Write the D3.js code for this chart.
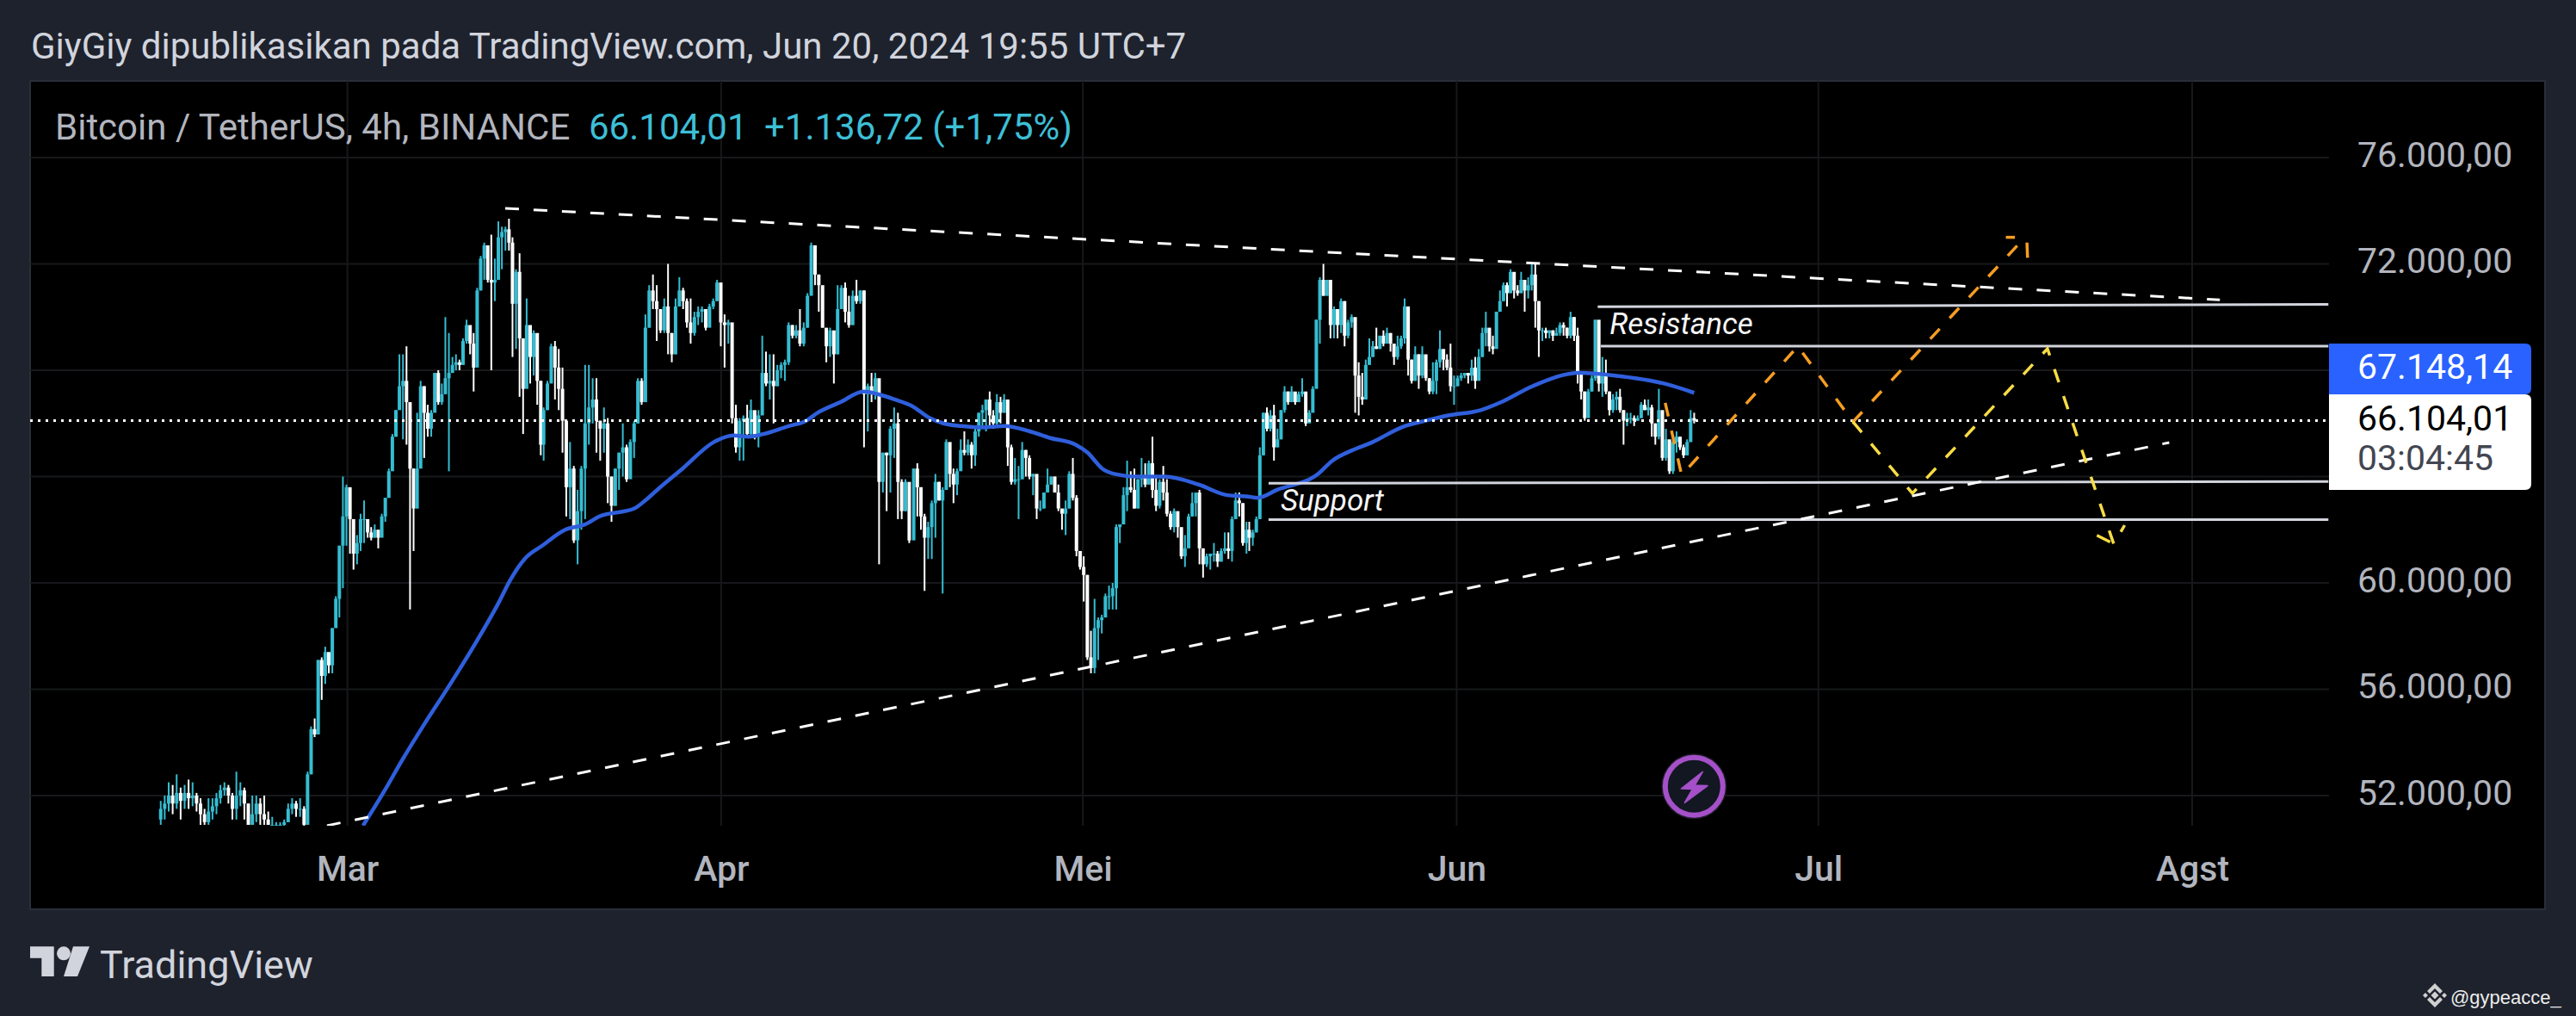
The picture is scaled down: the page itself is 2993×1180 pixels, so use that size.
<!DOCTYPE html>
<html>
<head>
<meta charset="utf-8">
<script src="https://cdn.jsdelivr.net/npm/d3@7"></script>
<style>
  html, body { margin: 0; padding: 0; background: #1e222d; }
  svg { display: block; }
  text { font-family: Roboto, sans-serif; }
</style>
</head>
<body>
<div id="chart"></div>
<script>
// prices are in thousands of USDT, days are counted from 1 March 2024

const priceTicks = [52, 56, 60, 64, 68, 72, 76];
// 64 and 68 sit behind the price tags, so only their grid lines show
const priceLabels = [52, 56, 60, 72, 76];
const monthTicks = [[2024, 2], [2024, 3], [2024, 4], [2024, 5], [2024, 6], [2024, 7]];
const monthLabels = ["Mar", "Apr", "Mei", "Jun", "Jul", "Agst"];

// 8h bars, one group per stretch of the chart
const closeA = [51.5,51.7,52.0,51.7,52.1,51.8,52.1,51.9,52.0,51.7,
  51.3,51.0,51.4,51.6,51.9,52.2,52.3,52.0,51.5,52.0,
  52.2,51.7,50.9,51.3,51.7,51.3,51.1,50.9,50.9,50.9,
  50.9,51.0,51.5,51.7,51.5,51.5,50.9];
const highA = [51.8,52.0,52.5,52.4,52.8,52.3,52.4,52.6,52.5,52.1,
  51.9,51.5,51.9,51.9,52.1,52.4,52.5,52.4,52.1,52.9,
  52.5,52.3,51.7,52.0,52.0,51.9,52.0,51.4,51.2,51.0,
  51.0,51.1,51.7,51.9,51.8,51.9,51.6];
const lowA = [50.9,51.1,51.4,51.3,51.5,51.1,51.5,51.5,51.6,51.4,
  50.9,50.9,50.9,51.1,51.3,51.7,52.0,51.7,51.1,51.1,
  51.6,51.1,50.9,50.9,51.0,50.9,50.9,50.9,50.9,50.9,
  50.6,50.7,51.0,51.3,51.2,51.2,50.6];

const closeB = [52.8,54.5,54.3,57.1,56.5,57.4,56.9,58.3,59.4,61.4,
  62.5,63.6,62.4,61.1,61.5,62.4,62.4,61.9,61.7,62.0,
  61.7,62.5,63.2,64.2,65.5,66.5,67.4,67.6,66.8,64.3,
  62.8,64.3,67.4,66.4,65.8,66.4,67.9,66.8,67.1,67.7,
  67.9,68.2,68.3,68.2,69.1,69.7,69.0,68.1,71.0,72.2,
  72.7,71.4,71.3,71.4,73.0,73.2,73.3,72.8,70.5,71.7,
  69.2,67.3,69.7,68.5,69.4,67.6,65.2];
const highB = [52.9,54.6,54.9,57.1,57.2,57.6,57.3,58.3,59.5,61.4,
  64.0,63.7,63.5,62.2,61.8,62.6,63.1,62.3,62.1,62.2,
  62.0,62.6,63.2,64.3,65.6,66.5,68.6,68.6,68.9,66.8,
  64.3,66.4,67.6,67.4,66.7,66.5,67.9,68.0,67.5,70.0,
  69.4,68.5,68.6,68.4,69.2,69.9,69.5,69.4,71.1,72.3,
  72.8,72.4,73.1,72.2,73.6,73.4,73.4,73.7,73.0,71.8,
  72.4,68.9,70.7,69.2,69.5,68.4,67.6];
const lowB = [51.0,52.8,54.2,54.8,55.6,56.2,56.6,56.6,58.7,58.7,
  59.8,61.4,61.1,60.5,60.7,61.2,61.5,61.7,61.6,61.7,
  61.3,61.8,62.3,63.2,64.3,65.5,66.9,65.4,65.2,59.0,
  61.2,62.8,66.1,64.7,65.5,65.5,66.6,66.7,66.7,67.1,
  64.2,67.9,68.0,68.0,68.2,69.0,68.6,67.2,68.5,71.0,
  71.4,71.3,68.0,70.6,71.5,71.8,72.5,72.5,68.5,68.8,
  67.0,65.6,67.4,67.5,67.8,66.7,64.8];

const closeC = [66.5,67.5,68.9,68.1,67.3,66.1,63.6,64.3,61.6,62.7,
  64.3,66.0,66.6,66.9,66.1,65.8,66.0,64.0,62.9,64.3,
  64.9,65.1,63.9,65.3,66.0,67.6,66.8,69.6,71.0,70.6,
  70.3,69.5,70.4,69.4,68.6,70.4,71.0,70.6,69.8,69.4,
  70.0,70.2,70.3,69.6,70.4,70.6,71.3,69.8,69.7,69.8,
  66.2,65.1,66.1,66.2,65.6,66.5,65.5,66.3,67.9,67.5,
  67.6,67.4,68.0,68.2,68.3,69.7,69.3,69.5,69.0,69.6,
  70.8,72.7,71.6,71.2,69.6,68.9,69.5,68.6,70.3,71.1,
  70.2,69.7,70.8,70.6,71.0,67.1,67.4,67.1,67.7,63.8,
  64.9,64.8,65.8,66.0,63.8,62.7,63.8,61.6];
const highC = [66.6,67.6,69.0,69.1,68.8,68.1,64.9,65.3,64.4,63.5,
  64.4,68.2,68.2,67.7,67.7,66.1,66.6,66.2,64.0,64.3,
  64.9,66.0,65.2,65.4,66.1,67.7,67.7,70.1,71.2,71.6,
  71.2,70.3,70.7,72.0,69.4,70.7,71.5,71.1,70.7,70.7,
  70.2,70.4,70.4,70.1,70.5,70.7,71.4,70.6,70.1,69.9,
  69.6,66.7,66.2,66.3,66.7,66.9,66.3,66.5,69.3,68.7,
  68.6,68.6,68.2,68.3,68.4,69.8,69.7,69.7,70.3,69.8,
  70.9,72.8,72.1,71.6,71.0,69.5,69.6,69.3,71.2,71.2,
  71.3,70.8,71.0,71.4,71.0,71.0,67.5,67.9,67.9,67.1,
  64.9,64.9,65.9,66.6,66.4,63.9,63.9,63.7];
const lowC = [64.6,66.5,68.1,66.9,66.5,64.9,62.5,62.4,61.5,60.7,
  62.0,62.4,65.2,66.0,64.9,64.6,64.9,63.0,62.3,62.9,
  63.5,64.0,63.8,64.6,64.7,66.0,66.7,66.8,69.6,70.3,
  69.1,69.4,69.4,68.6,68.3,68.6,70.4,70.3,69.6,69.0,
  69.3,69.7,69.8,69.5,69.9,70.3,70.6,68.9,68.1,69.0,
  66.0,64.9,64.6,64.6,65.5,65.5,65.4,65.1,66.4,67.4,
  66.9,66.0,67.4,67.7,67.6,68.2,69.2,69.2,68.9,68.9,
  69.6,71.3,71.2,70.2,69.6,68.3,68.5,67.5,68.6,70.3,
  69.8,69.6,69.7,70.5,70.5,65.1,65.7,66.8,66.9,60.7,
  63.4,62.7,63.4,64.7,62.4,62.4,62.7,61.5];

const closeD = [64.3,63.6,62.5,61.7,62.1,63.0,63.8,63.1,63.5,65.3,
  64.1,63.7,64.2,65.0,64.9,65.2,64.8,65.7,66.4,66.5,
  66.9,66.3,66.0,66.8,66.4,66.9,65.1,63.8,63.9,63.9,
  65.0,64.7,64.0,64.1,62.8,62.8,63.4,63.7,64.0,63.4,
  62.8,62.6,62.8,64.1,63.2,61.2,60.6,60.3,57.2,56.8,
  58.3,58.6,58.7,59.5,59.5,59.8,62.1,62.2,63.3,63.6,
  63.5,62.8,63.9,64.0,63.7,64.5,63.5,62.9,63.8,63.4,
  62.6,62.1,62.7,62.1,61.0,61.3,62.5,63.0,63.4,61.3,
  60.7,61.0,61.1,61.1,60.8,61.2,61.3,61.2,62.4,63.1,
  63.0,61.5,62.0];
const highD = [64.3,64.5,63.6,62.6,62.3,63.1,64.1,63.8,63.6,65.4,
  65.0,64.3,64.3,65.4,65.7,65.4,65.3,65.8,66.4,66.7,
  66.9,67.2,66.5,67.1,67.0,67.1,66.8,65.2,64.7,64.4,
  65.3,65.0,64.8,64.1,63.9,63.1,63.4,64.3,64.0,64.0,
  63.7,62.6,63.1,64.2,64.7,63.3,61.2,61.0,60.3,58.2,
  59.4,58.7,58.8,59.6,59.9,60.0,62.2,62.2,63.6,64.6,
  64.2,64.3,63.9,64.7,64.5,64.6,65.5,64.0,63.9,64.4,
  63.9,62.7,62.8,62.5,61.8,61.8,62.6,63.4,63.4,63.5,
  61.3,61.1,61.1,61.5,61.2,61.3,61.9,61.9,62.5,63.4,
  63.4,63.0,62.3];
const lowD = [62.0,62.5,62.0,59.7,60.9,60.9,61.7,63.1,59.6,63.5,
  63.6,63.0,63.3,64.5,64.8,64.8,64.3,64.4,65.5,65.9,
  65.7,65.9,65.8,65.9,66.0,66.4,64.4,63.7,63.7,62.4,
  63.9,64.0,63.9,63.3,62.4,62.7,62.8,63.4,63.7,63.4,
  62.7,62.0,61.8,62.8,63.1,61.0,60.5,59.3,57.1,56.6,
  56.6,57.1,58.1,58.7,59.0,59.0,59.0,61.5,62.5,62.7,
  63.4,62.8,62.8,63.6,63.6,63.7,63.2,62.7,62.8,63.1,
  62.5,62.0,61.9,61.7,60.9,60.6,61.8,62.5,62.5,60.7,
  60.2,60.6,60.5,60.8,60.6,60.8,61.1,60.9,60.8,62.5,
  62.5,61.4,61.1];

const closeE = [61.7,61.9,62.4,64.8,66.4,65.8,66.3,65.1,65.4,66.5,
  67.2,66.8,67.2,66.8,67.1,67.2,66.0,66.4,67.3,69.9,
  71.4,70.8,71.4,69.7,70.3,69.7,70.6,69.3,69.8,70.0,
  67.8,67.0,66.9,68.2,68.5,68.9,68.8,69.3,69.0,69.4,
  69.0,68.5,68.9,69.2,70.4,68.4,67.6,68.6,67.8,68.6,
  67.7,67.2,67.6,68.3,68.8,68.4,68.1,67.4,67.4,67.7,
  67.8,67.9,67.8,68.1,67.6,68.5,69.4,69.6,68.9,68.8,
  70.2,70.6,71.2,70.9,71.7,71.0,70.9,71.4,71.0,71.2,
  71.6,70.6,69.5,69.5,69.4,69.5,69.3,69.4,69.7,69.6,
  69.3,70.0,69.3,67.9,67.2,66.2,67.2,67.7,69.9,67.5,
  67.8,67.2,66.5,66.9,67.0,66.5,66.1,66.2,66.2,66.1,
  66.2,66.7,66.5,66.6,66.0,65.5,66.5,64.7,65.4,64.2,
  65.3,65.5,65.1,64.8,65.3,66.2,66.104];
const highE = [62.3,62.0,62.5,65.1,66.4,66.6,66.5,66.7,65.8,66.5,
  67.4,67.2,67.4,67.0,67.2,67.7,67.0,66.5,67.4,69.9,
  71.5,72.0,71.4,71.4,70.4,70.3,70.7,70.6,69.9,70.1,
  69.6,68.3,67.9,68.4,69.2,69.1,69.6,69.3,69.5,69.6,
  69.4,68.9,69.3,69.3,70.7,69.5,68.4,68.9,68.6,68.9,
  68.3,67.7,68.3,68.4,69.5,68.7,68.6,69.0,67.8,67.8,
  67.9,67.9,67.9,68.4,68.5,68.8,69.6,70.2,69.5,69.3,
  70.2,71.0,71.3,71.3,71.8,71.5,71.2,71.7,71.4,71.5,
  72.0,72.0,70.6,69.6,69.6,69.5,69.5,69.6,69.8,69.8,
  69.6,70.2,70.0,69.6,67.9,67.2,67.3,67.8,69.9,69.8,
  68.5,68.4,67.2,67.1,67.2,67.3,66.5,66.4,66.4,66.3,
  66.3,66.8,66.9,66.9,66.7,66.0,67.3,66.4,65.8,65.3,
  65.4,65.7,65.5,65.2,65.4,66.5,66.4];
const lowE = [61.2,61.4,61.9,62.4,64.8,65.7,65.7,64.6,65.1,65.4,
  66.4,66.7,66.8,66.7,66.8,67.0,65.9,66.1,66.5,67.4,
  69.0,70.8,70.8,69.2,69.2,69.2,69.4,68.9,69.2,69.6,
  66.4,66.3,66.7,66.9,68.2,68.5,68.8,68.8,68.9,69.0,
  68.7,68.2,68.4,68.8,69.0,67.8,67.5,67.6,67.3,67.7,
  67.6,67.1,67.1,67.1,68.1,68.0,68.0,67.2,66.7,67.4,
  67.6,67.7,67.5,67.6,67.3,67.7,68.5,68.9,68.7,68.6,
  68.9,70.2,70.6,70.4,70.9,70.7,70.8,70.9,70.2,70.7,
  71.0,69.6,68.5,69.1,69.2,69.2,69.1,69.3,69.3,69.3,
  69.2,69.2,69.1,67.5,66.9,66.1,66.9,67.2,67.6,67.2,
  67.0,67.1,66.3,66.4,66.5,66.4,65.2,65.9,66.0,65.9,
  66.1,66.2,66.5,66.3,65.5,65.2,65.4,64.6,64.6,64.1,
  64.1,64.9,65.0,64.7,64.8,65.3,66.0];

// first and last day of each stretch above
const stretchDays = [[-15.48, -3.59], [-3.30, 16.04], [16.28, 46.6], [46.97, 74.57], [74.8, 111.7]];
const firstOpen = 51.1;

// moving average
const maDays = [1.3,3.08,4.5,6.4,8.4,10.45,12.6,13.5,14.7,16.16,18.06,19.7,20.9,23.8,24.7,25.7,27.8,30.4,32,33.3,34.5,36.6,38.05,39,40.9,42.8,44,45.4,46.85,48.3,49.45,50.9,52.8,54.5,56.6,58.3,60.4,61.4,62.6,63.6,65.4,67.8,70.6,73,74.7,75.5,77.1,80.5,81.7,83.4,84.8,87.7,89.4,91.3,94,95.7,98.3,102.2,105.1,109.2,111.7];
const maValues = [50.87,52.18,53.3,54.7,56.1,57.6,59.3,60.1,60.9,61.4,62.0,62.2,62.5,62.8,63.1,63.5,64.3,65.3,65.55,65.5,65.6,65.9,66.1,66.4,66.8,67.2,67.1,66.9,66.65,66.2,66.0,65.9,65.85,65.9,65.7,65.45,65.2,64.9,64.3,64.1,64.0,64.0,63.7,63.3,63.25,63.2,63.5,64.1,64.6,65.0,65.25,65.9,66.1,66.3,66.5,66.8,67.4,67.9,67.8,67.5,67.15];

// drawings on the chart
const upperTrendDays = [13.09, 155.3];
const upperTrendPrices = [74.09, 70.65];
const lowerTrendDays = [-1.69, 151.1];
const lowerTrendPrices = [50.87, 65.28];
const levelDays = [[103.7, 164.3], [103.95, 164.3], [76.4, 164.3], [76.4, 164.3]];
const levelPrices = [[70.39, 70.48], [68.91, 68.91], [63.75, 63.81], [62.38, 62.38]];
const orangeDays = [109.3, 110.66, 120.3, 124.87, 138.5];
const orangePrices = [66.77, 64.05, 68.9, 66.06, 72.69];
const orangeTipDays = [[137.55, 138.3], [139.3, 139.35]];
const orangeTipPrices = [[73.0, 73.0], [72.8, 72.23]];
const yellowDays = [124.87, 129.8, 141.0, 146.5, 147.4];
const yellowPrices = [66.06, 63.37, 68.81, 61.46, 62.17];
const yellowTipDays = [146.2, 145.1];
const yellowTipPrices = [61.54, 61.79];

const lastPrice = 66.10401;
const maLast = 67.14814;

// layout
const W = 2993, H = 1180;
const panel = {left: 35, top: 94, right: 2957, bottom: 1056};
const plot = {left: 35, top: 94, right: 2706, bottom: 959};
const labelX = 2739;

const day0 = Date.UTC(2024, 2, 1);
const dayToDate = d => new Date(day0 + d * 864e5);

const xScale = d3.scaleUtc()
  .domain([new Date(Date.UTC(2024, 2, 1)), new Date(Date.UTC(2024, 7, 1))])
  .range([403.6, 2547]);
const yScale = d3.scaleLinear()
  .domain([60, 72])
  .range([677, 306.5]);
const xDay = d => xScale(dayToDate(d));

// dots for thousands, comma for decimals
const idLocale = d3.formatLocale({decimal: ",", thousands: ".", grouping: [3], currency: ["", ""]});
const fmtPriceId = idLocale.format(",.2f");

// join the stretches into one list of bars
const stretches = [
  [closeA, highA, lowA], [closeB, highB, lowB], [closeC, highC, lowC],
  [closeD, highD, lowD], [closeE, highE, lowE]
];
const bars = [];
let prevClose = firstOpen;
stretches.forEach(function(s, k) {
  const dayOf = d3.scaleLinear().domain([0, s[0].length - 1]).range(stretchDays[k]);
  s[0].forEach(function(c, i) {
    bars.push({day: dayOf(i), open: prevClose, close: c, high: s[1][i], low: s[2][i]});
    prevClose = c;
  });
});

const svg = d3.select("#chart").append("svg")
  .attr("width", W)
  .attr("height", H);

svg.append("rect").attr("width", W).attr("height", H).attr("fill", "#1e222d");
svg.append("rect")
  .attr("x", panel.left).attr("y", panel.top)
  .attr("width", panel.right - panel.left).attr("height", panel.bottom - panel.top)
  .attr("fill", "#000")
  .attr("stroke", "#2a2e39").attr("stroke-width", 2);

svg.append("defs").append("clipPath").attr("id", "plotClip")
  .append("rect")
  .attr("x", plot.left).attr("y", plot.top)
  .attr("width", plot.right - plot.left).attr("height", plot.bottom - plot.top);

// grid
const monthDates = monthTicks.map(m => new Date(Date.UTC(m[0], m[1], 1)));
const grid = svg.append("g").attr("stroke", "#17181b").attr("stroke-width", 2);
grid.selectAll("line.h").data(priceTicks).enter().append("line")
  .attr("x1", plot.left).attr("x2", plot.right)
  .attr("y1", d => yScale(d)).attr("y2", d => yScale(d));
grid.selectAll("line.v").data(monthDates).enter().append("line")
  .attr("x1", d => xScale(d)).attr("x2", d => xScale(d))
  .attr("y1", plot.top).attr("y2", plot.bottom);

// axes
const yAxis = d3.axisRight(yScale)
  .tickValues(priceLabels)
  .tickSize(0).tickPadding(0)
  .tickFormat(d => fmtPriceId(d * 1000));
const yG = svg.append("g").attr("transform", `translate(${labelX},0)`).call(yAxis);
yG.select(".domain").remove();
yG.selectAll("text")
  .attr("dy", "0.245em")
  .attr("fill", "#b2b5be")
  .style("font-family", "Roboto")
  .style("font-size", "41px");

const xAxis = d3.axisBottom(xScale)
  .tickValues(monthDates)
  .tickSize(0).tickPadding(0)
  .tickFormat((d, i) => monthLabels[i]);
const xG = svg.append("g").attr("transform", "translate(0,1023)").call(xAxis);
xG.select(".domain").remove();
xG.selectAll("text")
  .attr("y", 0).attr("dy", 0)
  .attr("fill", "#b2b5be")
  .style("font-family", "Roboto")
  .style("font-weight", "500")
  .style("font-size", "41px");

const chart = svg.append("g").attr("clip-path", "url(#plotClip)");

// candles, up bars teal and down bars white
const upColor = "#35bdd2", downColor = "#ffffff";
const barColor = d => d.close >= d.open ? upColor : downColor;
chart.selectAll("line.wick").data(bars).enter().append("line")
  .attr("x1", d => xDay(d.day)).attr("x2", d => xDay(d.day))
  .attr("y1", d => yScale(d.high)).attr("y2", d => yScale(d.low))
  .attr("stroke", barColor).attr("stroke-width", 2);
chart.selectAll("rect.body").data(bars).enter().append("rect")
  .attr("x", d => xDay(d.day) - 2)
  .attr("width", 4)
  .attr("y", d => yScale(Math.max(d.open, d.close)))
  .attr("height", d => Math.max(1, Math.abs(yScale(d.open) - yScale(d.close))))
  .attr("fill", barColor);

// moving average
const maLine = d3.line()
  .x(d => xDay(d[0]))
  .y(d => yScale(d[1]))
  .curve(d3.curveMonotoneX);
chart.append("path")
  .attr("d", maLine(d3.zip(maDays, maValues)))
  .attr("fill", "none").attr("stroke", "#2f5fdc").attr("stroke-width", 4.5);

// last price
chart.append("line")
  .attr("x1", plot.left).attr("x2", plot.right)
  .attr("y1", yScale(lastPrice)).attr("y2", yScale(lastPrice))
  .attr("stroke", "#fff").attr("stroke-width", 3).attr("stroke-dasharray", "3 6");

// drawings
const drawLine = d3.line().x(d => xDay(d[0])).y(d => yScale(d[1]));
function drawPath(days, prices, color, dash, width) {
  chart.append("path")
    .attr("d", drawLine(d3.zip(days, prices)))
    .attr("fill", "none")
    .attr("stroke", color)
    .attr("stroke-width", width || 3)
    .attr("stroke-dasharray", dash);
}
levelDays.forEach((d, i) => drawPath(d, levelPrices[i], "#d1d4dc", null));
drawPath(upperTrendDays, upperTrendPrices, "#fff", "16 17");
drawPath(lowerTrendDays, lowerTrendPrices, "#fff", "16 17");
drawPath(orangeDays, orangePrices, "#f59d23", "16 17", 3.5);
orangeTipDays.forEach((d, i) => drawPath(d, orangeTipPrices[i], "#f59d23", null, 3.5));
drawPath(yellowDays, yellowPrices, "#f7dc45", "16 17", 3.5);
drawPath(yellowTipDays, yellowTipPrices, "#f7dc45", null, 3.5);

// labels on the drawings
chart.append("text")
  .attr("x", xDay(104.7)).attr("y", yScale(69.36))
  .attr("fill", "#f5f5f5")
  .style("font-style", "italic").style("font-size", "35px")
  .text("Resistance");
chart.append("text")
  .attr("x", xDay(77.4)).attr("y", yScale(62.72))
  .attr("fill", "#f5f5f5")
  .style("font-style", "italic").style("font-size", "35px")
  .text("Support");

// price tags
function rightRound(x, y, w, h, r) {
  return `M${x},${y}H${x + w - r}Q${x + w},${y} ${x + w},${y + r}` +
    `V${y + h - r}Q${x + w},${y + h} ${x + w - r},${y + h}H${x}Z`;
}
svg.append("path").attr("d", rightRound(plot.right, 399, 235, 59, 7)).attr("fill", "#2962ff");
svg.append("path").attr("d", rightRound(plot.right, 458, 235, 111, 7)).attr("fill", "#fff");
function tag(txt, y, color) {
  svg.append("text").attr("x", labelX).attr("y", y)
    .attr("fill", color).style("font-size", "41px").text(txt);
}
tag(fmtPriceId(maLast * 1000), 440, "#fff");
tag(fmtPriceId(lastPrice * 1000), 500, "#000");
tag("03:04:45", 546, "#434651");

// header and legend
svg.append("text").attr("x", 36).attr("y", 68)
  .attr("fill", "#d1d4dc").style("font-size", "42px")
  .text("GiyGiy dipublikasikan pada TradingView.com, Jun 20, 2024 19:55 UTC+7");
svg.append("text").attr("x", 64).attr("y", 162)
  .attr("fill", "#b2b5be").style("font-size", "42px")
  .text("Bitcoin / TetherUS, 4h, BINANCE");
svg.append("text").attr("x", 684).attr("y", 162)
  .attr("fill", "#3dbfd6").style("font-size", "42px")
  .text("66.104,01");
svg.append("text").attr("x", 888).attr("y", 162)
  .attr("fill", "#3dbfd6").style("font-size", "42px")
  .text("+1.136,72 (+1,75%)");

// lightning badge
const badge = svg.append("g").attr("transform", "translate(1968.3,913.3)");
badge.append("circle").attr("r", 38).attr("fill", "#1f1c2b");
badge.append("circle").attr("r", 33.5).attr("fill", "#131722").attr("stroke", "#a550c8").attr("stroke-width", 6);
badge.append("path")
  .attr("d", "M10,-17L-15,2.7L-2,3.3L-11,19L15.7,-0.7L1,-1.3Z")
  .attr("fill", "#a550c8").attr("stroke", "#a550c8").attr("stroke-width", 1.5).attr("stroke-linejoin", "round");

// TradingView logo
const logo = svg.append("g").attr("fill", "#d1d4dc");
logo.append("path").attr("d", "M35,1099.3H62.7V1134H48.3V1112.7H35Z");
logo.append("circle").attr("cx", 74).attr("cy", 1107.3).attr("r", 8);
logo.append("path").attr("d", "M85,1099.3H104L90,1134H74Z");
svg.append("text").attr("x", 116).attr("y", 1136)
  .attr("fill", "#d1d4dc").style("font-size", "45px")
  .text("TradingView");

// watermark
const mark = svg.append("g").attr("transform", "translate(2829,1156)").attr("fill", "#d0d0d0");
mark.append("path").attr("d", "M0,-4.5L4.5,0L0,4.5L-4.5,0Z");
mark.append("path").attr("d", "M-14,0L-11,-3L-8,0L-11,3Z");
mark.append("path").attr("d", "M14,0L11,-3L8,0L11,3Z");
mark.append("path").attr("d", "M0,-14L9,-5L6,-2L0,-8L-6,-2L-9,-5Z");
mark.append("path").attr("d", "M0,14L9,5L6,2L0,8L-6,2L-9,5Z");
svg.append("text").attr("x", 2847).attr("y", 1166)
  .attr("fill", "#ececec")
  .style("font-family", "'Liberation Sans'").style("font-size", "22px")
  .text("@gypeacce_");
</script>
</body>
</html>
